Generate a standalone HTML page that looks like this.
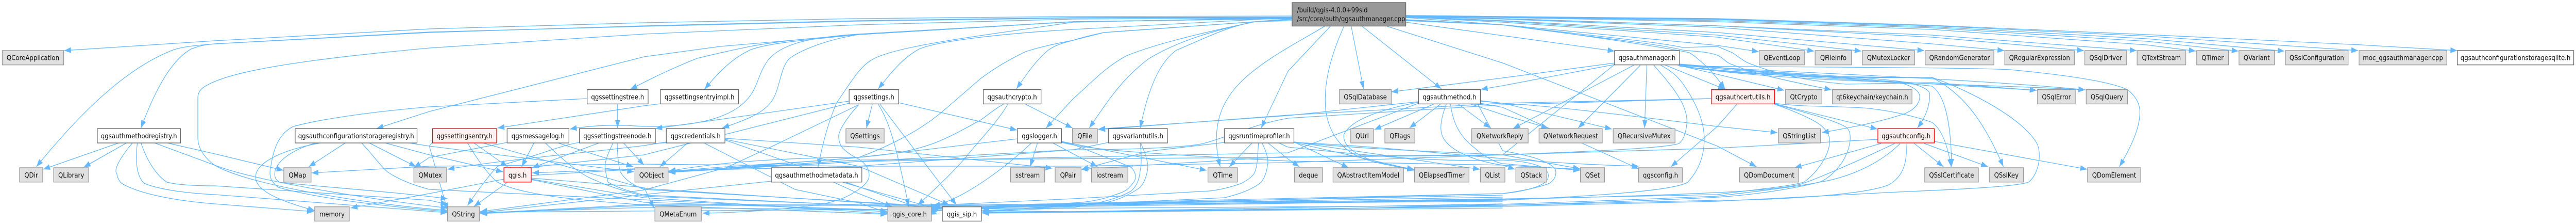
<!DOCTYPE html>
<html><head><meta charset="utf-8"><title>qgsauthmanager.cpp include graph</title>
<style>
html,body{margin:0;padding:0;background:#fff;width:100%;height:434px;overflow:hidden}
svg{display:block;width:100%;height:434px}
text{font-family:"DejaVu Sans","Liberation Sans",sans-serif;font-size:13.33px;fill:#111;text-anchor:middle}
.e path{fill:none;stroke:#63B8FF;stroke-width:1.3;marker-end:url(#a)}
.g{fill:#E0E0E0;stroke:#999;stroke-width:1.4}
.w{fill:#fff;stroke:#666;stroke-width:1.4}
.r{fill:#FFF0F0;stroke:#f00;stroke-width:1.4}
.m{fill:#999;stroke:#666;stroke-width:1.4}
</style></head><body>
<svg xmlns="http://www.w3.org/2000/svg" viewBox="0 0 5664 434" preserveAspectRatio="none">
<defs><marker id="a" markerUnits="userSpaceOnUse" markerWidth="16" markerHeight="12" refX="15" refY="5.5" orient="auto"><path d="M0,0L15,5.5L0,11z" fill="#63B8FF"/></marker></defs>
<g class="e">
<!-- main, leftward -->
<path d="M2841,31L2360,32L1888,36L1416,44L944,56L472,79L141,98"/>
<path d="M2841,33L2360,34L1888,40L1416,50L944,63L472,85C430,88 405,90 383,96C280,130 180,215 80,323"/>
<path d="M2841,34L2360,35L1888,41L1416,51L944,62L472,85C445,87 435,90 420,95C380,115 345,165 310,248"/>
<path d="M2841,35L2360,37L1888,48L1416,66L944,93C800,105 560,125 472,158C445,168 435,175 435,190L435,267C435,290 455,310 472,320C530,352 750,390 984,408"/>
<path d="M2841,36L2360,42L1888,67C1750,77 1640,85 1583,90L1416,110L944,216L828,249"/>
<path d="M2841,36L2360,42L1888,67C1780,74 1710,80 1649,90C1610,97 1570,105 1533,113C1490,128 1440,148 1386,173"/>
<path d="M2841,36L2360,42L1888,67C1760,78 1680,85 1649,97C1610,113 1580,140 1549,173"/>
<path d="M2841,36L2360,42L1888,66C1780,72 1720,85 1690,115C1660,150 1670,180 1620,210C1560,245 1450,248 1380,243C1340,242 1300,243 1253,250"/>
<path d="M2841,36L2360,42L1888,67C1830,75 1770,92 1736,113C1716,130 1715,170 1699,193C1680,220 1640,232 1588,248"/>
<path d="M2841,34L2360,57C2200,65 2060,80 2021,95C1985,112 1960,140 1931,172"/>
<path d="M2841,34L2360,43C2150,70 1960,90 1915,117C1890,130 1870,160 1839,200C1820,240 1808,280 1799,323"/>
<path d="M2845,36L2760,42L2427,63C2400,68 2380,72 2360,78C2330,85 2320,88 2305,97C2280,115 2260,140 2235,172"/>
<path d="M2845,36L2760,42L2427,63L2360,78C2320,85 2290,90 2255,100C2220,115 2190,130 2155,153C2120,180 2100,195 2071,217C2020,255 1950,285 1888,305C1780,315 1600,320 1470,333"/>
<path d="M2841,38L2760,42C2650,62 2580,85 2527,113C2470,150 2440,190 2395,248"/>
<path d="M2841,38L2760,42C2650,62 2540,85 2477,108C2430,130 2400,160 2360,191L2300,248"/>
<path d="M2841,40L2760,42C2700,50 2640,78 2587,97C2550,120 2525,170 2507,248"/>
<path d="M2912,51C2860,80 2740,130 2700,190C2670,230 2670,280 2683,323"/>
<path d="M2925,51L2832,138L2773,248"/>
<path d="M2955,51C2920,120 2910,170 2915,215C2925,270 2960,295 3000,308C3040,320 3075,322 3109,328"/>
<path d="M2971,51L2998,172"/>
<path d="M2995,51L3169,172"/>
<!-- main, rightward -->
<path d="M3050,51L3304,122L3776,283L3862,323"/>
<path d="M3091,43L3550,99"/>
<path d="M3091,34L3304,48L3776,88L3867,100"/>
<path d="M3091,33L3304,43L3776,72L3989,99"/>
<path d="M3091,33L3304,41L3776,68L4093,99"/>
<path d="M3091,32L3304,40L3776,63L4231,98"/>
<path d="M3091,32L3304,37L3776,53L4248,85L4407,98"/>
<path d="M3091,32L3304,36L3776,50L4248,72L4582,98"/>
<path d="M3091,31L3304,36L3776,50L4248,68L4698,98"/>
<path d="M3091,31L3304,34L3776,42L4248,57L4720,87L4828,99"/>
<path d="M3091,30L3304,33L3776,40L4248,54L4720,80L4922,99"/>
<path d="M3091,30L3304,33L3776,38L4248,52L4720,75L5023,99"/>
<path d="M3091,30L3304,32L3776,37L4248,50L4720,70L5185,98"/>
<path d="M3091,30L3304,32L3776,36L4248,49L4720,67L5192,87L5403,98"/>
<path d="M3091,38L3304,48C3500,70 3640,80 3700,92L3776,90C3790,95 3795,97 3809,102C3830,115 3840,122 3853,125C3920,148 3990,158 4059,163L4248,160L4478,175"/>
<path d="M3091,39L3304,48C3500,72 3650,85 3700,97C3730,100 3755,100 3776,107C3790,112 3795,122 3809,125C3860,145 3950,160 4027,174"/>
<path d="M3091,40L3304,48C3500,70 3680,95 3714,102C3725,107 3730,112 3737,117C3755,130 3775,150 3793,172"/>
<!-- qgsauthmanager.h -->
<path d="M3550,122L3304,151L3059,178"/>
<path d="M3550,125L3304,166L3256,173"/>
<path d="M3593,126L3327,249"/>
<path d="M3607,126L3470,248"/>
<path d="M3621,126L3616,248"/>
<path d="M3636,126C3680,170 3712,205 3709,240C3706,262 3700,272 3692,278C3660,288 3450,295 3304,300L2832,315L2360,322L1888,322L1416,318L944,322L685,335"/>
<path d="M3651,126C3680,140 3690,150 3701,163C3730,200 3750,240 3747,277C3745,310 3730,335 3711,353C3680,370 3500,380 3304,388L2600,395L2048,403"/>
<path d="M3661,126L3776,167L3793,172"/>
<path d="M3688,126L3776,144L3923,175"/>
<path d="M3693,124L3776,130C3900,145 4120,150 4189,163C4210,170 4221,178 4221,187C4221,200 4210,212 4189,220C4120,240 4060,248 4006,257"/>
<path d="M3693,125L3776,131C3950,145 4160,150 4209,163C4232,170 4243,175 4243,183C4243,205 4235,225 4216,248"/>
<path d="M3693,126C3900,145 4200,160 4478,175"/>
<path d="M3693,126C3900,140 4300,150 4585,174"/>
<path d="M3693,127C3900,160 4300,160 4585,174"/>
<path d="M3693,128C3900,130 4300,130 4420,135C4600,150 4660,165 4680,175C4700,190 4705,205 4705,217C4705,250 4685,285 4660,323"/>
<path d="M3693,128C3900,150 4150,155 4248,167C4270,180 4290,220 4291,323"/>
<path d="M3693,128C3900,150 4140,150 4248,150C4300,175 4350,210 4405,323"/>
<path d="M3693,128C3900,155 4180,150 4248,150C4330,175 4450,230 4480,280C4490,305 4480,340 4460,353C4420,365 4200,370 4130,374L3776,390L3304,400L2160,412"/>
<!-- qgsauthcertutils.h -->
<path d="M3763,191L3304,200L2832,223L2415,251"/>
<path d="M3763,191L3304,203L2832,229C2760,240 2700,265 2650,277C2620,285 2500,290 2360,290L1888,322L1470,331"/>
<path d="M3819,202L3776,245L3674,323"/>
<path d="M3902,202C3960,220 3995,235 4009,247C4020,258 4023,265 4023,273C4023,300 3995,335 3966,353C3930,362 3850,368 3776,377C3500,384 3000,392 2600,395L2048,402"/>
<path d="M3902,202C3980,220 4040,235 4060,247C4075,258 4068,290 4050,315C4030,340 4010,350 4000,353C3950,362 3850,372 3776,380C3500,390 3000,410 2160,412"/>
<path d="M3902,201L4128,250"/>
<path d="M3902,200C3960,208 4050,205 4109,210C4160,215 4210,225 4248,237C4265,248 4280,270 4290,323"/>
<!-- qgsauthconfig.h -->
<path d="M4136,278L3946,325"/>
<path d="M4129,270L3776,287L3304,300L2832,303L2377,328"/>
<path d="M4166,278C4090,310 4000,345 3959,357C3920,365 3850,370 3776,373C3500,385 3000,392 2600,397L2048,404"/>
<path d="M4178,278C4130,320 4060,345 4000,353C3930,368 3850,378 3776,382C3500,395 3000,408 2160,411"/>
<path d="M4191,278C4195,320 4180,345 4153,358C4100,378 3900,388 3776,388L3304,398L1056,411"/>
<path d="M4209,278L4273,323"/>
<path d="M4231,278L4371,323"/>
<path d="M4253,274L4589,328"/>
<!-- qgsauthmethod.h -->
<path d="M3119,197L2832,224L2415,250"/>
<path d="M3119,198C3020,215 2970,235 2955,260C2950,285 2990,305 3035,315C3060,322 3085,325 3109,330"/>
<path d="M3152,202L3022,251"/>
<path d="M3167,202L3099,248"/>
<path d="M3207,202L3277,248"/>
<path d="M3180,202C3170,225 3165,245 3170,260C3180,290 3240,312 3304,320L3331,328"/>
<path d="M3189,202C3195,235 3205,260 3240,285C3265,305 3290,315 3304,317L3474,330"/>
<path d="M3235,202L3304,222L3404,248"/>
<path d="M3255,196L3304,200L3544,250"/>
<path d="M3255,195L3304,200C3400,205 3500,215 3776,245L3908,257"/>
<path d="M3255,200L3304,208L3603,327"/>
<path d="M3250,203L3304,292C3340,298 3375,305 3387,310C3410,318 3421,325 3421,333C3421,345 3415,350 3407,355C3380,365 3330,372 3304,375L2600,392L2048,402"/>
<!-- qgsruntimeprofiler.h -->
<path d="M2753,277L2703,323"/>
<path d="M2767,277C2765,305 2765,325 2757,337C2750,345 2740,350 2730,355C2710,362 2680,368 2660,370L2360,385L2050,398"/>
<path d="M2775,277C2785,295 2790,310 2787,320C2785,335 2780,345 2773,353C2750,370 2715,378 2693,383L2360,397L2160,410"/>
<path d="M2788,277L2832,308L2857,323"/>
<path d="M2692,276L2527,293L2378,328"/>
<path d="M2845,275L2965,325"/>
<path d="M2845,276L3109,329"/>
<path d="M2845,275L3254,328"/>
<path d="M2845,275C3000,290 3200,295 3304,300L3474,327"/>
<path d="M2845,276C3100,285 3300,315 3603,322"/>
<path d="M2812,277L2832,285C3000,300 3150,315 3304,310C3350,312 3421,320 3401,350C3380,370 3304,375 3304,375L2050,400"/>
<!-- qgsvariantutils.h -->
<path d="M2507,277C2510,300 2510,320 2507,330C2505,350 2498,362 2487,370C2460,385 2400,398 2360,400L2160,408"/>
<path d="M2508,277C2520,300 2526,318 2523,330C2520,345 2515,355 2507,363C2480,380 2450,390 2427,393L2360,402L2160,410"/>
<path d="M2437,276L2360,290L1888,313L1470,332"/>
<!-- qgslogger.h -->
<path d="M2281,277L2265,323"/>
<path d="M2268,277C2210,325 2120,385 2052,399"/>
<path d="M2315,277L2413,323"/>
<path d="M2237,269L1888,305C1780,305 1600,310 1470,332"/>
<path d="M2334,274L2653,330"/>
<path d="M2334,275L2360,280C2430,305 2480,320 2488,325C2498,335 2498,343 2495,350C2480,370 2470,372 2453,377C2420,388 2390,392 2360,393L2160,405"/>
<path d="M2334,276C2400,290 2500,297 2832,312L3304,320L3474,328"/>
<!-- qgsauthcrypto.h -->
<path d="M2206,202C2180,215 2170,225 2155,233C2120,250 2090,265 2055,277C2000,295 1950,300 1888,305C1750,315 1600,325 1470,334"/>
<path d="M2216,202C2190,240 2155,270 2125,303C2090,340 2050,370 2018,398"/>
<path d="M2255,202L2358,248"/>
<!-- qgssettings.h -->
<path d="M1918,202L1905,248"/>
<path d="M1976,199L2236,252"/>
<path d="M1931,202C1955,235 1970,280 1998,400"/>
<path d="M1935,202L2103,397"/>
<path d="M1867,196L1441,249"/>
<path d="M1888,203L1699,283L1596,325L1416,368L1056,410"/>
<path d="M1888,203C1855,235 1845,255 1844,263C1844,275 1848,282 1853,287C1865,298 1878,304 1888,308C1905,318 1911,328 1911,340C1911,350 1900,360 1888,367C1860,385 1830,392 1799,397C1700,408 1620,412 1545,413"/>
<path d="M1867,200L1416,300L1108,330"/>
<!-- qgscredentials.h -->
<path d="M1512,277L1451,323"/>
<path d="M1465,275L1416,282C1300,295 1100,310 984,328"/>
<path d="M1594,268L1888,285L2314,326"/>
<path d="M1594,270L1888,322L2087,397"/>
<path d="M1548,277L1748,367L1888,393L1951,412"/>
<!-- qgsauthmethodmetadata.h -->
<path d="M1696,351L1566,363L1416,377L1056,412"/>
<path d="M1833,353L1888,375L1961,400"/>
<path d="M1853,353L1888,362L2061,405"/>
<!-- registries -->
<path d="M261,277L95,328"/>
<path d="M278,277L184,324"/>
<path d="M291,277C260,310 250,330 257,337C258,345 262,350 267,355C310,378 400,390 472,395L690,410"/>
<path d="M302,277C298,305 298,340 317,355C350,368 420,375 472,377L984,412"/>
<path d="M310,277C325,315 345,340 367,353C390,358 430,360 472,360L944,388L984,396"/>
<path d="M340,277L472,320C560,350 800,385 984,403"/>
<path d="M368,277L472,298L623,330"/>
<path d="M759,277L679,323"/>
<path d="M812,277L915,323"/>
<path d="M705,277C620,290 562,315 562,343C562,375 640,395 692,408"/>
<path d="M695,277C640,290 604,315 604,337C604,345 608,350 615,353C700,362 850,370 984,385"/>
<path d="M795,277C820,300 835,320 852,333C880,350 915,360 944,367L1951,410"/>
<path d="M847,277L944,300L1106,333"/>
<path d="M900,277L944,283L1394,333"/>
<!-- qgssettingstree, entry -->
<path d="M1358,202L1358,248"/>
<path d="M1291,191L944,207C800,218 700,232 645,245C615,258 602,285 596,320C590,340 595,352 612,363C700,385 850,400 984,410"/>
<path d="M1452,201L1416,205L1094,248"/>
<path d="M1028,277C1050,310 1075,340 1094,353C1150,380 1300,390 1416,397L1951,415"/>
<path d="M1042,277L1116,323"/>
<path d="M1062,277L1416,365L2061,402"/>
<path d="M951,275L944,283L984,408"/>
<!-- qgsmessagelog.h -->
<path d="M1115,276L944,305L910,325"/>
<path d="M1174,277L1147,323"/>
<path d="M1199,277C1250,320 1280,340 1311,350C1340,362 1380,372 1416,380L2061,404"/>
<path d="M1227,277L1392,323"/>
<!-- treenode -->
<path d="M1274,276C1230,282 1190,300 1094,322C1070,345 1050,370 1028,398"/>
<path d="M1317,277L1170,325"/>
<path d="M1371,277L1416,320"/>
<path d="M1348,277C1335,300 1328,318 1331,327C1332,338 1335,345 1337,353C1360,365 1390,372 1416,378L2061,405"/>
<path d="M1357,277C1358,305 1360,322 1364,333C1375,350 1395,360 1416,367L2061,400"/>
<path d="M1441,278L1590,270L2061,415"/>
<!-- qgis.h -->
<path d="M1116,353L1042,400"/>
<path d="M1108,347L944,375L771,403"/>
<path d="M1168,345L1416,363L1438,403"/>
<path d="M1168,347L1416,383L1951,414"/>
<path d="M1168,348L1416,392L2061,410"/>
<path d="M1168,340L1450,325L1170,335"/>
<!-- long returns to QString / qgis_core / qgis_sip -->
<path d="M3304,385L2360,398L1416,398L1056,414"/>
<path d="M3304,390L2360,396L1416,396L1056,413"/>
<path d="M3304,395L2360,410L1416,402L1056,412"/>
<path d="M3304,400L2360,410L2160,412"/>
<path d="M3304,403L2360,411L2160,413"/>
<path d="M3304,378L2360,395L1951,413"/>
<path d="M3304,382L2360,396L1951,412"/>
<path d="M3304,387L2360,394L2048,404"/>
<path d="M3119,200L2832,296L1888,313L1470,334"/>
<path d="M3550,125L3304,300L2832,305L1888,310L1470,333"/>
</g>
<rect class="m" x="2841" y="5" width="250" height="45.5"/>
<text style="text-anchor:start" x="2852" y="24">/build/qgis-4.0.0+99sid</text>
<text style="text-anchor:start" x="2852" y="41">/src/core/auth/qgsauthmanager.cpp</text>
<!-- row 1 -->
<rect class="g" x="5" y="98" width="135" height="27.7"/><text x="72.5" y="116.5">QCoreApplication</text>
<rect class="w" x="3550" y="98" width="143" height="27.7"/><text x="3621.5" y="116.5">qgsauthmanager.h</text>
<rect class="g" x="3868" y="98" width="100" height="27.7"/><text x="3918" y="116.5">QEventLoop</text>
<rect class="g" x="3991" y="98" width="80" height="27.7"/><text x="4031" y="116.5">QFileInfo</text>
<rect class="g" x="4095" y="98" width="115" height="27.7"/><text x="4152.5" y="116.5">QMutexLocker</text>
<rect class="g" x="4233" y="98" width="151" height="27.7"/><text x="4308.5" y="116.5">QRandomGenerator</text>
<rect class="g" x="4408" y="98" width="153" height="27.7"/><text x="4484.5" y="116.5">QRegularExpression</text>
<rect class="g" x="4584" y="98" width="92" height="27.7"/><text x="4630" y="116.5">QSqlDriver</text>
<rect class="g" x="4699" y="98" width="107" height="27.7"/><text x="4752.5" y="116.5">QTextStream</text>
<rect class="g" x="4830" y="98" width="70" height="27.7"/><text x="4865" y="116.5">QTimer</text>
<rect class="g" x="4923" y="98" width="78" height="27.7"/><text x="4962" y="116.5">QVariant</text>
<rect class="g" x="5025" y="98" width="138" height="27.7"/><text x="5094" y="116.5">QSslConfiguration</text>
<rect class="g" x="5187" y="98" width="193" height="27.7"/><text x="5283.5" y="116.5">moc_qgsauthmanager.cpp</text>
<rect class="w" x="5403" y="98" width="256" height="27.7"/><text x="5531" y="116.5">qgsauthconfigurationstoragesqlite.h</text>
<!-- row 2 -->
<rect class="w" x="1291" y="173.7" width="134" height="27.7"/><text x="1358" y="192.3">qgssettingstree.h</text>
<rect class="w" x="1452" y="173.7" width="172" height="27.7"/><text x="1538" y="192.3">qgssettingsentryimpl.h</text>
<rect class="w" x="1867" y="173.7" width="109" height="27.7"/><text x="1921.5" y="192.3">qgssettings.h</text>
<rect class="w" x="2162" y="173.7" width="127" height="27.7"/><text x="2225.5" y="192.3">qgsauthcrypto.h</text>
<rect class="g" x="2945" y="173.7" width="114" height="27.7"/><text x="3002" y="192.3">QSqlDatabase</text>
<rect class="w" x="3119" y="173.7" width="136" height="27.7"/><text x="3187" y="192.3">qgsauthmethod.h</text>
<rect class="r" x="3763" y="173.7" width="139" height="27.7"/><text x="3832.5" y="192.3">qgsauthcertutils.h</text>
<rect class="g" x="3926" y="173.7" width="80" height="27.7"/><text x="3966" y="192.3">QtCrypto</text>
<rect class="g" x="4029" y="173.7" width="175" height="27.7"/><text x="4116.5" y="192.3">qt6keychain/keychain.h</text>
<rect class="g" x="4480" y="173.7" width="83" height="27.7"/><text x="4521.5" y="192.3">QSqlError</text>
<rect class="g" x="4587" y="173.7" width="91" height="27.7"/><text x="4632.5" y="192.3">QSqlQuery</text>
<!-- row 3 -->
<rect class="w" x="214" y="249.3" width="183" height="27.7"/><text x="305.5" y="268">qgsauthmethodregistry.h</text>
<rect class="w" x="649" y="249.3" width="268" height="27.7"/><text x="783" y="268">qgsauthconfigurationstorageregistry.h</text>
<rect class="r" x="951" y="249.3" width="141" height="27.7"/><text x="1021.5" y="268">qgssettingsentry.h</text>
<rect class="w" x="1115" y="249.3" width="136" height="27.7"/><text x="1183" y="268">qgsmessagelog.h</text>
<rect class="w" x="1274" y="249.3" width="167" height="27.7"/><text x="1357.5" y="268">qgssettingstreenode.h</text>
<rect class="w" x="1465" y="249.3" width="129" height="27.7"/><text x="1529.5" y="268">qgscredentials.h</text>
<rect class="g" x="1860" y="249.3" width="84" height="27.7"/><text x="1902" y="268">QSettings</text>
<rect class="w" x="2237" y="249.3" width="97" height="27.7"/><text x="2285.5" y="268">qgslogger.h</text>
<rect class="g" x="2358" y="249.3" width="55" height="27.7"/><text x="2385.5" y="268">QFile</text>
<rect class="w" x="2437" y="249.3" width="130" height="27.7"/><text x="2502" y="268">qgsvariantutils.h</text>
<rect class="w" x="2692" y="249.3" width="153" height="27.7"/><text x="2768.5" y="268">qgsruntimeprofiler.h</text>
<rect class="g" x="2970" y="249.3" width="50" height="27.7"/><text x="2995" y="268">QUrl</text>
<rect class="g" x="3045" y="249.3" width="66" height="27.7"/><text x="3078" y="268">QFlags</text>
<rect class="g" x="3236" y="249.3" width="124" height="27.7"/><text x="3298" y="268">QNetworkReply</text>
<rect class="g" x="3384" y="249.3" width="139" height="27.7"/><text x="3453.5" y="268">QNetworkRequest</text>
<rect class="g" x="3547" y="249.3" width="136" height="27.7"/><text x="3615" y="268">QRecursiveMutex</text>
<rect class="g" x="3910" y="249.3" width="93" height="27.7"/><text x="3956.5" y="268">QStringList</text>
<rect class="r" x="4129" y="249.3" width="124" height="27.7"/><text x="4191" y="268">qgsauthconfig.h</text>
<!-- row 4 -->
<rect class="g" x="43" y="325" width="51" height="27.7"/><text x="68.5" y="344">QDir</text>
<rect class="g" x="118" y="325" width="77" height="27.7"/><text x="156.5" y="344">QLibrary</text>
<rect class="g" x="624" y="325" width="60" height="27.7"/><text x="654" y="344">QMap</text>
<rect class="g" x="910" y="325" width="72" height="27.7"/><text x="946" y="344">QMutex</text>
<rect class="r" x="1108" y="325" width="60" height="27.7"/><text x="1138" y="344">qgis.h</text>
<rect class="g" x="1396" y="325" width="73" height="27.7"/><text x="1432.5" y="344">QObject</text>
<rect class="w" x="1696" y="325" width="199" height="27.7"/><text x="1795.5" y="344">qgsauthmethodmetadata.h</text>
<rect class="g" x="2222" y="325" width="75" height="27.7"/><text x="2259.5" y="344">sstream</text>
<rect class="g" x="2320" y="325" width="57" height="27.7"/><text x="2348.5" y="344">QPair</text>
<rect class="g" x="2400" y="325" width="80" height="27.7"/><text x="2440" y="344">iostream</text>
<rect class="g" x="2656" y="325" width="65" height="27.7"/><text x="2688.5" y="344">QTime</text>
<rect class="g" x="2846" y="325" width="62" height="27.7"/><text x="2877" y="344">deque</text>
<rect class="g" x="2931" y="325" width="155" height="27.7"/><text x="3008.5" y="344">QAbstractItemModel</text>
<rect class="g" x="3110" y="325" width="120" height="27.7"/><text x="3170" y="344">QElapsedTimer</text>
<rect class="g" x="3255" y="325" width="54" height="27.7"/><text x="3282" y="344">QList</text>
<rect class="g" x="3333" y="325" width="68" height="27.7"/><text x="3367" y="344">QStack</text>
<rect class="g" x="3475" y="325" width="53" height="27.7"/><text x="3501.5" y="344">QSet</text>
<rect class="g" x="3603" y="325" width="96" height="27.7"/><text x="3651" y="344">qgsconfig.h</text>
<rect class="g" x="3825" y="325" width="130" height="27.7"/><text x="3890" y="344">QDomDocument</text>
<rect class="g" x="4232" y="325" width="118" height="27.7"/><text x="4291" y="344">QSslCertificate</text>
<rect class="g" x="4374" y="325" width="75" height="27.7"/><text x="4411.5" y="344">QSslKey</text>
<rect class="g" x="4590" y="325" width="117" height="27.7"/><text x="4648.5" y="344">QDomElement</text>
<!-- row 5 -->
<rect class="g" x="692" y="400.7" width="76" height="27.7"/><text x="730" y="419.3">memory</text>
<rect class="g" x="984" y="400.7" width="70" height="27.7"/><text x="1019" y="419.3">QString</text>
<rect class="g" x="1440" y="400.7" width="102" height="27.7"/><text x="1491" y="419.3">QMetaEnum</text>
<rect class="g" x="1952" y="400.7" width="96" height="27.7"/><text x="2000" y="419.3">qgis_core.h</text>
<rect class="w" x="2072" y="400.7" width="86" height="27.7"/><text x="2115" y="419.3">qgis_sip.h</text>
</svg>
</body></html>
